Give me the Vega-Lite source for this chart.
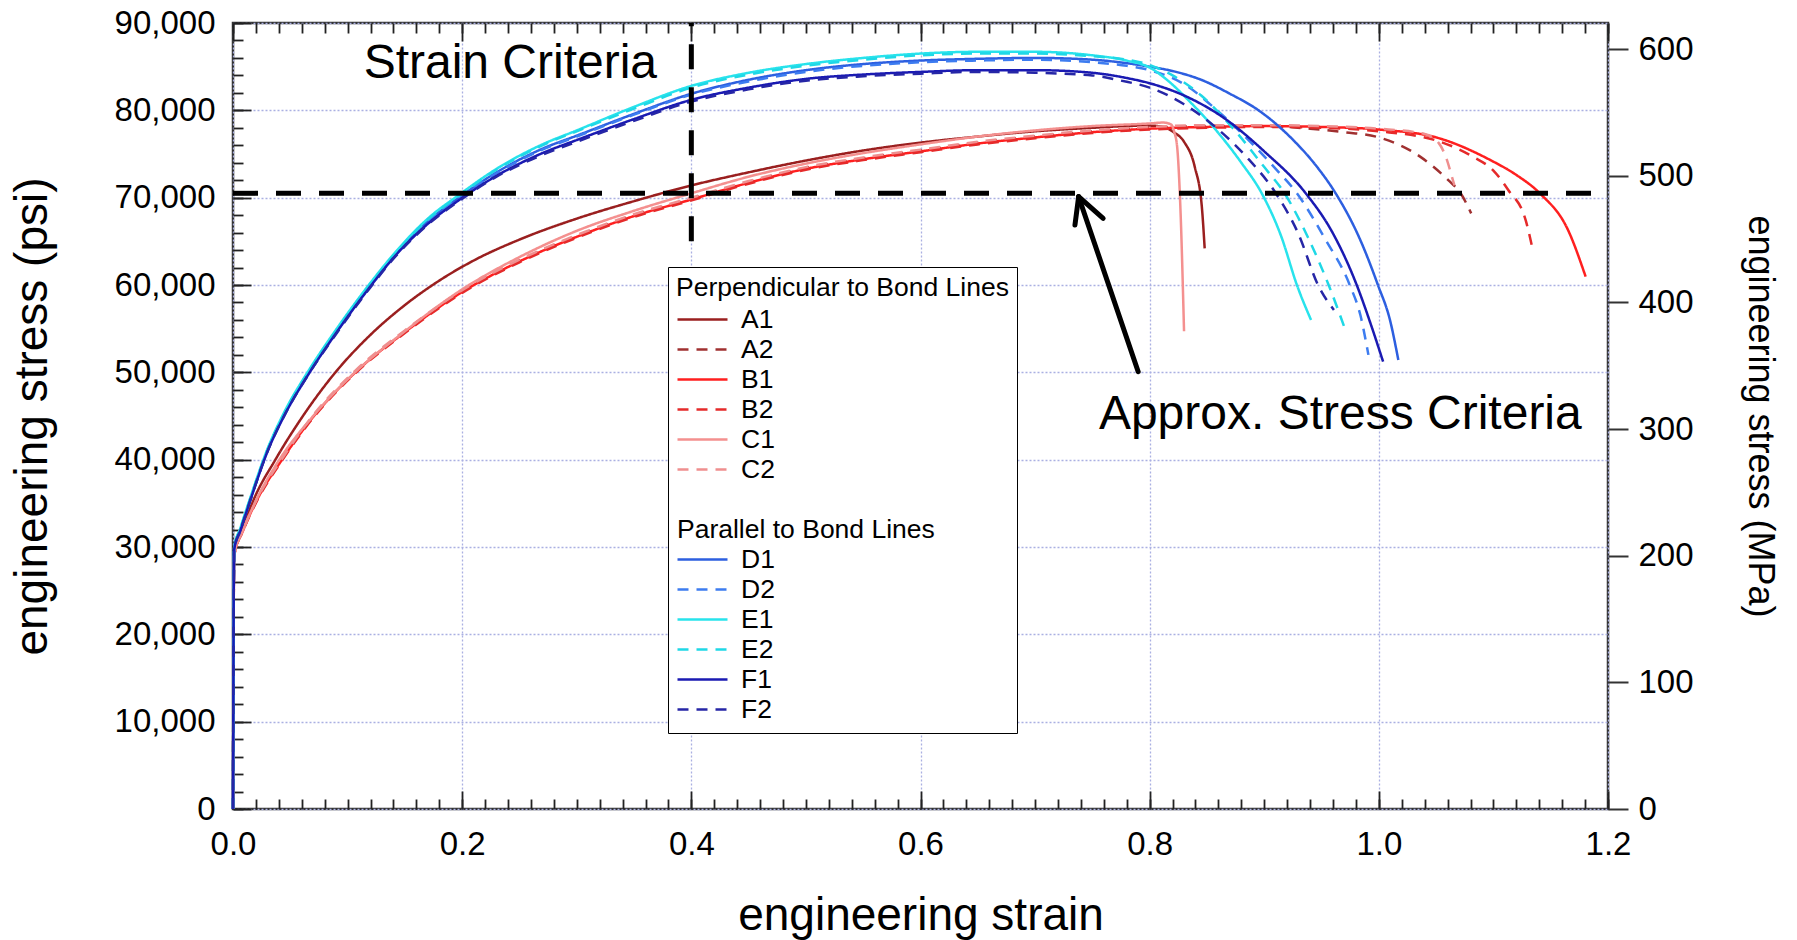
{
"$schema":"https://vega.github.io/schema/vega-lite/v6.json",
"autosize":{"type":"none"},
"padding":{"left":233,"top":23,"right":189,"bottom":131},
"width":1375,"height":786,
"config":{"view":{"stroke":"#333333","strokeWidth":2.5},"font":"Liberation Sans",
"axis":{"labelFont":"Liberation Sans","titleFont":"Liberation Sans","labelColor":"black","titleColor":"black","titleFontWeight":"normal","domain":false,"tickColor":"#222222","tickWidth":1.8,"labelFlush":false}},
"datasets":{
"frame":[{"strain":0,"psi":0},{"strain":1.2,"psi":90000}],
"mpa":[{"mpa":0},{"mpa":620.528}],
"criteria":[{"strain":0,"strain2":1.2,"psi":70500,"psi2":70500},{"strain":0.4,"strain2":0.4,"psi":65000,"psi2":90000}],
"arrow":[{"strain":0.790,"psi":50070,"strain2":0.738,"psi2":70110},{"strain":0.738,"psi":70110,"strain2":0.7348,"psi2":66870},{"strain":0.738,"psi":70110,"strain2":0.7594,"psi2":67630}],
"notes":[{"strain":0.114,"psi":83700,"text":"Strain Criteria"},{"strain":0.7557,"psi":43500,"text":"Approx. Stress Criteria"}],
"curves":[
{"series":"A1","strain":0,"psi":0},{"series":"A1","strain":0.001,"psi":29200},{"series":"A1","strain":0.009,"psi":32300},{"series":"A1","strain":0.018,"psi":35400},{"series":"A1","strain":0.037,"psi":40000},{"series":"A1","strain":0.06,"psi":44800},{"series":"A1","strain":0.0894,"psi":50000},{"series":"A1","strain":0.12,"psi":54300},{"series":"A1","strain":0.15,"psi":57700},{"series":"A1","strain":0.18,"psi":60500},{"series":"A1","strain":0.21,"psi":62800},{"series":"A1","strain":0.25,"psi":65200},{"series":"A1","strain":0.3,"psi":67600},{"series":"A1","strain":0.35,"psi":69600},{"series":"A1","strain":0.4,"psi":71400},{"series":"A1","strain":0.45,"psi":72900},{"series":"A1","strain":0.5,"psi":74250},{"series":"A1","strain":0.55,"psi":75400},{"series":"A1","strain":0.6,"psi":76300},{"series":"A1","strain":0.65,"psi":77000},{"series":"A1","strain":0.7,"psi":77600},{"series":"A1","strain":0.75,"psi":78000},{"series":"A1","strain":0.78,"psi":78200},{"series":"A1","strain":0.8,"psi":78250},{"series":"A1","strain":0.812,"psi":78100},{"series":"A1","strain":0.8209,"psi":77500},{"series":"A1","strain":0.83,"psi":76400},{"series":"A1","strain":0.8394,"psi":73500},{"series":"A1","strain":0.8455,"psi":69000},{"series":"A1","strain":0.848,"psi":64200},
{"series":"A2","strain":0,"psi":0},{"series":"A2","strain":0.001,"psi":29000},{"series":"A2","strain":0.009,"psi":32000},{"series":"A2","strain":0.021,"psi":35500},{"series":"A2","strain":0.0428,"psi":40100},{"series":"A2","strain":0.07,"psi":45000},{"series":"A2","strain":0.1068,"psi":50100},{"series":"A2","strain":0.15,"psi":54700},{"series":"A2","strain":0.2,"psi":59300},{"series":"A2","strain":0.25,"psi":62800},{"series":"A2","strain":0.3075,"psi":66000},{"series":"A2","strain":0.35,"psi":68000},{"series":"A2","strain":0.3977,"psi":69800},{"series":"A2","strain":0.45,"psi":71800},{"series":"A2","strain":0.5,"psi":73400},{"series":"A2","strain":0.55,"psi":74500},{"series":"A2","strain":0.6,"psi":75400},{"series":"A2","strain":0.65,"psi":76300},{"series":"A2","strain":0.7,"psi":77000},{"series":"A2","strain":0.75,"psi":77600},{"series":"A2","strain":0.8,"psi":78000},{"series":"A2","strain":0.85,"psi":78200},{"series":"A2","strain":0.9,"psi":78200},{"series":"A2","strain":0.94,"psi":77900},{"series":"A2","strain":0.97,"psi":77500},{"series":"A2","strain":1.0,"psi":76900},{"series":"A2","strain":1.036,"psi":74700},{"series":"A2","strain":1.0606,"psi":72000},{"series":"A2","strain":1.0714,"psi":70500},{"series":"A2","strain":1.0806,"psi":68200},
{"series":"B1","strain":0,"psi":0},{"series":"B1","strain":0.001,"psi":29000},{"series":"B1","strain":0.009,"psi":31950},{"series":"B1","strain":0.021,"psi":35400},{"series":"B1","strain":0.0428,"psi":40000},{"series":"B1","strain":0.07,"psi":44900},{"series":"B1","strain":0.1068,"psi":50000},{"series":"B1","strain":0.15,"psi":54600},{"series":"B1","strain":0.2,"psi":59200},{"series":"B1","strain":0.25,"psi":62700},{"series":"B1","strain":0.3075,"psi":65900},{"series":"B1","strain":0.35,"psi":67900},{"series":"B1","strain":0.3977,"psi":69700},{"series":"B1","strain":0.45,"psi":71700},{"series":"B1","strain":0.5,"psi":73300},{"series":"B1","strain":0.55,"psi":74400},{"series":"B1","strain":0.6,"psi":75300},{"series":"B1","strain":0.65,"psi":76200},{"series":"B1","strain":0.7,"psi":76900},{"series":"B1","strain":0.75,"psi":77500},{"series":"B1","strain":0.8,"psi":77900},{"series":"B1","strain":0.85,"psi":78100},{"series":"B1","strain":0.9,"psi":78200},{"series":"B1","strain":0.95,"psi":78100},{"series":"B1","strain":1.0,"psi":77800},{"series":"B1","strain":1.05,"psi":76900},{"series":"B1","strain":1.0974,"psi":74300},{"series":"B1","strain":1.12,"psi":72600},{"series":"B1","strain":1.1405,"psi":70500},{"series":"B1","strain":1.1651,"psi":66300},{"series":"B1","strain":1.1805,"psi":60950},
{"series":"B2","strain":0,"psi":0},{"series":"B2","strain":0.001,"psi":29000},{"series":"B2","strain":0.009,"psi":31900},{"series":"B2","strain":0.021,"psi":35300},{"series":"B2","strain":0.0428,"psi":39900},{"series":"B2","strain":0.07,"psi":44800},{"series":"B2","strain":0.1068,"psi":49900},{"series":"B2","strain":0.15,"psi":54500},{"series":"B2","strain":0.2,"psi":59100},{"series":"B2","strain":0.25,"psi":62600},{"series":"B2","strain":0.3075,"psi":65800},{"series":"B2","strain":0.35,"psi":67800},{"series":"B2","strain":0.3977,"psi":69600},{"series":"B2","strain":0.45,"psi":71600},{"series":"B2","strain":0.5,"psi":73200},{"series":"B2","strain":0.55,"psi":74300},{"series":"B2","strain":0.6,"psi":75200},{"series":"B2","strain":0.65,"psi":76100},{"series":"B2","strain":0.7,"psi":76800},{"series":"B2","strain":0.75,"psi":77400},{"series":"B2","strain":0.8,"psi":77800},{"series":"B2","strain":0.85,"psi":78000},{"series":"B2","strain":0.9,"psi":78100},{"series":"B2","strain":0.95,"psi":78000},{"series":"B2","strain":1.0,"psi":77600},{"series":"B2","strain":1.0514,"psi":76500},{"series":"B2","strain":1.082,"psi":74700},{"series":"B2","strain":1.1,"psi":73100},{"series":"B2","strain":1.1128,"psi":70900},{"series":"B2","strain":1.1282,"psi":67400},{"series":"B2","strain":1.1344,"psi":64000},
{"series":"C1","strain":0,"psi":0},{"series":"C1","strain":0.001,"psi":29000},{"series":"C1","strain":0.009,"psi":32000},{"series":"C1","strain":0.02,"psi":35300},{"series":"C1","strain":0.04,"psi":39900},{"series":"C1","strain":0.07,"psi":45000},{"series":"C1","strain":0.1,"psi":49200},{"series":"C1","strain":0.15,"psi":54700},{"series":"C1","strain":0.2,"psi":59500},{"series":"C1","strain":0.25,"psi":63200},{"series":"C1","strain":0.3,"psi":66200},{"series":"C1","strain":0.35,"psi":68500},{"series":"C1","strain":0.4,"psi":70500},{"series":"C1","strain":0.45,"psi":72400},{"series":"C1","strain":0.5,"psi":73900},{"series":"C1","strain":0.55,"psi":75100},{"series":"C1","strain":0.6,"psi":76100},{"series":"C1","strain":0.65,"psi":77000},{"series":"C1","strain":0.7,"psi":77700},{"series":"C1","strain":0.75,"psi":78200},{"series":"C1","strain":0.8,"psi":78500},{"series":"C1","strain":0.812,"psi":78600},{"series":"C1","strain":0.8185,"psi":78400},{"series":"C1","strain":0.8215,"psi":77500},{"series":"C1","strain":0.824,"psi":75800},{"series":"C1","strain":0.827,"psi":68200},{"series":"C1","strain":0.83,"psi":54700},
{"series":"C2","strain":0,"psi":0},{"series":"C2","strain":0.001,"psi":29000},{"series":"C2","strain":0.009,"psi":32000},{"series":"C2","strain":0.021,"psi":35500},{"series":"C2","strain":0.0428,"psi":40100},{"series":"C2","strain":0.07,"psi":45100},{"series":"C2","strain":0.1068,"psi":50200},{"series":"C2","strain":0.15,"psi":54800},{"series":"C2","strain":0.2,"psi":59400},{"series":"C2","strain":0.25,"psi":62900},{"series":"C2","strain":0.3075,"psi":66100},{"series":"C2","strain":0.35,"psi":68100},{"series":"C2","strain":0.3977,"psi":69900},{"series":"C2","strain":0.45,"psi":71900},{"series":"C2","strain":0.5,"psi":73500},{"series":"C2","strain":0.55,"psi":74600},{"series":"C2","strain":0.6,"psi":75500},{"series":"C2","strain":0.65,"psi":76400},{"series":"C2","strain":0.7,"psi":77100},{"series":"C2","strain":0.75,"psi":77700},{"series":"C2","strain":0.8,"psi":78100},{"series":"C2","strain":0.85,"psi":78300},{"series":"C2","strain":0.9,"psi":78300},{"series":"C2","strain":0.95,"psi":78200},{"series":"C2","strain":1.0,"psi":77900},{"series":"C2","strain":1.04,"psi":77300},{"series":"C2","strain":1.052,"psi":76300},{"series":"C2","strain":1.059,"psi":74500},{"series":"C2","strain":1.064,"psi":72300},{"series":"C2","strain":1.066,"psi":71400},
{"series":"D1","strain":0,"psi":0},{"series":"D1","strain":0.001,"psi":29800},{"series":"D1","strain":0.0065,"psi":32000},{"series":"D1","strain":0.015,"psi":35400},{"series":"D1","strain":0.03,"psi":41000},{"series":"D1","strain":0.045,"psi":45300},{"series":"D1","strain":0.066,"psi":50000},{"series":"D1","strain":0.09,"psi":54700},{"series":"D1","strain":0.1185,"psi":59800},{"series":"D1","strain":0.142,"psi":63600},{"series":"D1","strain":0.17,"psi":67300},{"series":"D1","strain":0.197,"psi":70000},{"series":"D1","strain":0.23,"psi":72900},{"series":"D1","strain":0.27,"psi":75600},{"series":"D1","strain":0.3,"psi":77100},{"series":"D1","strain":0.35,"psi":79600},{"series":"D1","strain":0.4,"psi":81900},{"series":"D1","strain":0.45,"psi":83500},{"series":"D1","strain":0.5,"psi":84600},{"series":"D1","strain":0.55,"psi":85300},{"series":"D1","strain":0.6,"psi":85700},{"series":"D1","strain":0.65,"psi":85900},{"series":"D1","strain":0.7,"psi":86000},{"series":"D1","strain":0.75,"psi":85800},{"series":"D1","strain":0.78,"psi":85400},{"series":"D1","strain":0.8,"psi":85000},{"series":"D1","strain":0.82,"psi":84500},{"series":"D1","strain":0.8455,"psi":83470},{"series":"D1","strain":0.87,"psi":81900},{"series":"D1","strain":0.8946,"psi":80040},{"series":"D1","strain":0.9255,"psi":76570},{"series":"D1","strain":0.945,"psi":73700},{"series":"D1","strain":0.9623,"psi":70500},{"series":"D1","strain":0.9838,"psi":65160},{"series":"D1","strain":0.9992,"psi":60000},{"series":"D1","strain":1.0099,"psi":55900},{"series":"D1","strain":1.017,"psi":51420},
{"series":"D2","strain":0,"psi":0},{"series":"D2","strain":0.001,"psi":29800},{"series":"D2","strain":0.0065,"psi":32000},{"series":"D2","strain":0.015,"psi":35400},{"series":"D2","strain":0.03,"psi":41000},{"series":"D2","strain":0.045,"psi":45200},{"series":"D2","strain":0.066,"psi":49900},{"series":"D2","strain":0.09,"psi":54600},{"series":"D2","strain":0.1185,"psi":59700},{"series":"D2","strain":0.142,"psi":63500},{"series":"D2","strain":0.17,"psi":67200},{"series":"D2","strain":0.197,"psi":69900},{"series":"D2","strain":0.23,"psi":72800},{"series":"D2","strain":0.27,"psi":75500},{"series":"D2","strain":0.3,"psi":77000},{"series":"D2","strain":0.35,"psi":79500},{"series":"D2","strain":0.4,"psi":81800},{"series":"D2","strain":0.45,"psi":83300},{"series":"D2","strain":0.5,"psi":84400},{"series":"D2","strain":0.55,"psi":85100},{"series":"D2","strain":0.6,"psi":85500},{"series":"D2","strain":0.65,"psi":85700},{"series":"D2","strain":0.7,"psi":85800},{"series":"D2","strain":0.75,"psi":85500},{"series":"D2","strain":0.78,"psi":85100},{"series":"D2","strain":0.8,"psi":84600},{"series":"D2","strain":0.83,"psi":83000},{"series":"D2","strain":0.858,"psi":80100},{"series":"D2","strain":0.89,"psi":76100},{"series":"D2","strain":0.91,"psi":73300},{"series":"D2","strain":0.9285,"psi":70500},{"series":"D2","strain":0.953,"psi":65300},{"series":"D2","strain":0.9746,"psi":60000},{"series":"D2","strain":0.984,"psi":56500},{"series":"D2","strain":0.9909,"psi":52000},
{"series":"E1","strain":0,"psi":0},{"series":"E1","strain":0.001,"psi":29900},{"series":"E1","strain":0.0065,"psi":32200},{"series":"E1","strain":0.015,"psi":35600},{"series":"E1","strain":0.03,"psi":41200},{"series":"E1","strain":0.045,"psi":45500},{"series":"E1","strain":0.066,"psi":50200},{"series":"E1","strain":0.09,"psi":54900},{"series":"E1","strain":0.1185,"psi":60000},{"series":"E1","strain":0.142,"psi":63800},{"series":"E1","strain":0.17,"psi":67600},{"series":"E1","strain":0.197,"psi":70300},{"series":"E1","strain":0.23,"psi":73300},{"series":"E1","strain":0.27,"psi":76100},{"series":"E1","strain":0.3,"psi":77700},{"series":"E1","strain":0.35,"psi":80400},{"series":"E1","strain":0.4,"psi":82800},{"series":"E1","strain":0.45,"psi":84300},{"series":"E1","strain":0.5,"psi":85300},{"series":"E1","strain":0.55,"psi":86000},{"series":"E1","strain":0.6,"psi":86500},{"series":"E1","strain":0.65,"psi":86700},{"series":"E1","strain":0.7,"psi":86700},{"series":"E1","strain":0.75,"psi":86300},{"series":"E1","strain":0.78,"psi":85700},{"series":"E1","strain":0.8,"psi":84900},{"series":"E1","strain":0.815,"psi":83500},{"series":"E1","strain":0.835,"psi":81000},{"series":"E1","strain":0.86,"psi":77400},{"series":"E1","strain":0.88,"psi":74000},{"series":"E1","strain":0.8978,"psi":70500},{"series":"E1","strain":0.915,"psi":65500},{"series":"E1","strain":0.9285,"psi":60000},{"series":"E1","strain":0.9408,"psi":56000},
{"series":"E2","strain":0,"psi":0},{"series":"E2","strain":0.001,"psi":29900},{"series":"E2","strain":0.0065,"psi":32100},{"series":"E2","strain":0.015,"psi":35500},{"series":"E2","strain":0.03,"psi":41100},{"series":"E2","strain":0.045,"psi":45400},{"series":"E2","strain":0.066,"psi":50100},{"series":"E2","strain":0.09,"psi":54800},{"series":"E2","strain":0.1185,"psi":59900},{"series":"E2","strain":0.142,"psi":63700},{"series":"E2","strain":0.17,"psi":67500},{"series":"E2","strain":0.197,"psi":70200},{"series":"E2","strain":0.23,"psi":73200},{"series":"E2","strain":0.27,"psi":76000},{"series":"E2","strain":0.3,"psi":77600},{"series":"E2","strain":0.35,"psi":80200},{"series":"E2","strain":0.4,"psi":82600},{"series":"E2","strain":0.45,"psi":84100},{"series":"E2","strain":0.5,"psi":85100},{"series":"E2","strain":0.55,"psi":85800},{"series":"E2","strain":0.6,"psi":86300},{"series":"E2","strain":0.65,"psi":86500},{"series":"E2","strain":0.7,"psi":86500},{"series":"E2","strain":0.75,"psi":86200},{"series":"E2","strain":0.78,"psi":85800},{"series":"E2","strain":0.8,"psi":85200},{"series":"E2","strain":0.82,"psi":84000},{"series":"E2","strain":0.845,"psi":81700},{"series":"E2","strain":0.875,"psi":77600},{"series":"E2","strain":0.9,"psi":73500},{"series":"E2","strain":0.9177,"psi":70500},{"series":"E2","strain":0.938,"psi":65500},{"series":"E2","strain":0.9562,"psi":60000},{"series":"E2","strain":0.9708,"psi":54850},
{"series":"F1","strain":0,"psi":0},{"series":"F1","strain":0.001,"psi":29700},{"series":"F1","strain":0.0065,"psi":31900},{"series":"F1","strain":0.015,"psi":35300},{"series":"F1","strain":0.03,"psi":40900},{"series":"F1","strain":0.045,"psi":45100},{"series":"F1","strain":0.066,"psi":49800},{"series":"F1","strain":0.09,"psi":54500},{"series":"F1","strain":0.1185,"psi":59600},{"series":"F1","strain":0.142,"psi":63400},{"series":"F1","strain":0.17,"psi":67000},{"series":"F1","strain":0.197,"psi":69700},{"series":"F1","strain":0.23,"psi":72500},{"series":"F1","strain":0.27,"psi":75100},{"series":"F1","strain":0.3,"psi":76600},{"series":"F1","strain":0.35,"psi":79000},{"series":"F1","strain":0.4,"psi":81200},{"series":"F1","strain":0.45,"psi":82600},{"series":"F1","strain":0.5,"psi":83600},{"series":"F1","strain":0.55,"psi":84100},{"series":"F1","strain":0.6,"psi":84400},{"series":"F1","strain":0.65,"psi":84600},{"series":"F1","strain":0.7,"psi":84600},{"series":"F1","strain":0.75,"psi":84300},{"series":"F1","strain":0.78,"psi":83700},{"series":"F1","strain":0.8,"psi":83100},{"series":"F1","strain":0.83,"psi":81700},{"series":"F1","strain":0.864,"psi":79200},{"series":"F1","strain":0.9,"psi":75300},{"series":"F1","strain":0.9362,"psi":70500},{"series":"F1","strain":0.96,"psi":65900},{"series":"F1","strain":0.9807,"psi":60000},{"series":"F1","strain":0.993,"psi":55500},{"series":"F1","strain":1.0037,"psi":51230},
{"series":"F2","strain":0,"psi":0},{"series":"F2","strain":0.001,"psi":29700},{"series":"F2","strain":0.0065,"psi":31900},{"series":"F2","strain":0.015,"psi":35300},{"series":"F2","strain":0.03,"psi":40900},{"series":"F2","strain":0.045,"psi":45100},{"series":"F2","strain":0.066,"psi":49800},{"series":"F2","strain":0.09,"psi":54400},{"series":"F2","strain":0.1185,"psi":59500},{"series":"F2","strain":0.142,"psi":63300},{"series":"F2","strain":0.17,"psi":66900},{"series":"F2","strain":0.197,"psi":69600},{"series":"F2","strain":0.23,"psi":72400},{"series":"F2","strain":0.27,"psi":74900},{"series":"F2","strain":0.3,"psi":76400},{"series":"F2","strain":0.35,"psi":78800},{"series":"F2","strain":0.4,"psi":81000},{"series":"F2","strain":0.45,"psi":82400},{"series":"F2","strain":0.5,"psi":83400},{"series":"F2","strain":0.55,"psi":83900},{"series":"F2","strain":0.6,"psi":84200},{"series":"F2","strain":0.65,"psi":84400},{"series":"F2","strain":0.7,"psi":84300},{"series":"F2","strain":0.75,"psi":84000},{"series":"F2","strain":0.775,"psi":83400},{"series":"F2","strain":0.8,"psi":82600},{"series":"F2","strain":0.83,"psi":80700},{"series":"F2","strain":0.86,"psi":77800},{"series":"F2","strain":0.885,"psi":74600},{"series":"F2","strain":0.9101,"psi":70500},{"series":"F2","strain":0.93,"psi":65800},{"series":"F2","strain":0.9469,"psi":60000},{"series":"F2","strain":0.9608,"psi":57140}
]},
"layer":[
{"layer":[
 {"data":{"name":"frame"},"mark":{"type":"point","opacity":0},
  "encoding":{
   "x":{"field":"strain","type":"quantitative","scale":{"domain":[0,1.2],"nice":false,"zero":false},
        "axis":{"orient":"bottom","values":[0,0.2,0.4,0.6,0.8,1.0,1.2],"format":".1f","labelFontSize":33,"labelPadding":19,"labelFlush":false,"ticks":false,"grid":true,"gridColor":"#aab0e2","gridDash":[2,2],"gridWidth":1.3,"title":"engineering strain","titleFontSize":46,"titlePadding":32}},
   "y":{"field":"psi","type":"quantitative","scale":{"domain":[0,90000],"nice":false,"zero":false},
        "axis":{"orient":"left","values":[0,10000,20000,30000,40000,50000,60000,70000,80000,90000],"format":",d","labelFontSize":33,"labelPadding":18,"labelFlush":false,"ticks":false,"grid":true,"gridColor":"#aab0e2","gridDash":[2,2],"gridWidth":1.3,"title":"engineering stress (psi)","titleFontSize":46,"titlePadding":58}}}},
 {"data":{"name":"frame"},"mark":{"type":"point","opacity":0},
  "encoding":{
   "x":{"field":"strain","type":"quantitative","axis":{"orient":"bottom","tickCount":60,"labels":false,"tickSize":-10,"grid":false,"title":null}},
   "y":{"field":"psi","type":"quantitative","axis":{"orient":"left","tickCount":45,"labels":false,"tickSize":-10,"grid":false,"title":null}}}},
 {"data":{"name":"frame"},"mark":{"type":"point","opacity":0},
  "encoding":{
   "x":{"field":"strain","type":"quantitative","axis":{"orient":"bottom","values":[0,0.2,0.4,0.6,0.8,1.0,1.2],"labels":false,"tickSize":-18,"grid":false,"title":null}},
   "y":{"field":"psi","type":"quantitative","axis":{"orient":"left","values":[0,10000,20000,30000,40000,50000,60000,70000,80000,90000],"labels":false,"tickSize":-18,"grid":false,"title":null}}}},
 {"data":{"name":"frame"},"mark":{"type":"point","opacity":0},
  "encoding":{
   "x":{"field":"strain","type":"quantitative","axis":{"orient":"top","tickCount":60,"labels":false,"tickSize":-10,"grid":false,"title":null}},
   "y":{"field":"psi","type":"quantitative","axis":null}}},
 {"data":{"name":"frame"},"mark":{"type":"point","opacity":0},
  "encoding":{
   "x":{"field":"strain","type":"quantitative","axis":{"orient":"top","values":[0,0.2,0.4,0.6,0.8,1.0,1.2],"labels":false,"tickSize":-18,"grid":false,"title":null}},
   "y":{"field":"psi","type":"quantitative","axis":null}}},
 {"data":{"name":"curves"},"mark":{"type":"line","strokeWidth":2.5,"interpolate":"monotone"},
  "encoding":{
   "x":{"field":"strain","type":"quantitative","axis":null},
   "y":{"field":"psi","type":"quantitative","axis":null},
   "color":{"field":"series","type":"nominal",
     "scale":{"domain":["A1","A2","B1","B2","C1","C2"," ","Parallel to Bond Lines","D1","D2","E1","E2","F1","F2"],
              "range":["#9a1f1f","#a03030","#ff1f1f","#e52a2a","#f4908f","#ef8f8f","transparent","transparent","#2d5fe0","#3d7cf0","#28e3ec","#1fd8e6","#1a1ab2","#2626a6"]},
     "legend":{"title":"Perpendicular to Bond Lines","orient":"none","legendX":435,"legendY":244,"symbolType":"stroke","symbolSize":2500,"symbolStrokeWidth":2.5,"clipHeight":30,"rowPadding":0,"labelFont":"Liberation Sans","labelFontSize":26.5,"labelLimit":600,"labelOffset":12,"labelColor":"black","titleFont":"Liberation Sans","titleFontSize":26.5,"titleFontWeight":"normal","titleColor":"black","titleLimit":600,"titlePadding":3,"padding":8,"strokeColor":"black","fillColor":"white",
       "encode":{"labels":{"update":{"dx":{"signal":"datum.value === 'Parallel to Bond Lines' ? -64 : 0"}}}}}},
   "strokeDash":{"field":"series","type":"nominal",
     "scale":{"domain":["A1","A2","B1","B2","C1","C2"," ","Parallel to Bond Lines","D1","D2","E1","E2","F1","F2"],
              "range":[[1,0],[11,8],[1,0],[11,8],[1,0],[11,8],[1,0],[1,0],[1,0],[11,8],[1,0],[11,8],[1,0],[11,8]]},
     "legend":{"title":"Perpendicular to Bond Lines","orient":"none","legendX":435,"legendY":244,"symbolType":"stroke","symbolSize":2500,"symbolStrokeWidth":2.5,"clipHeight":30,"rowPadding":0,"labelFont":"Liberation Sans","labelFontSize":26.5,"labelLimit":600,"labelOffset":12,"labelColor":"black","titleFont":"Liberation Sans","titleFontSize":26.5,"titleFontWeight":"normal","titleColor":"black","titleLimit":600,"titlePadding":3,"padding":8,"strokeColor":"black","fillColor":"white",
       "encode":{"labels":{"update":{"dx":{"signal":"datum.value === 'Parallel to Bond Lines' ? -64 : 0"}}}}}}}},
 {"data":{"name":"criteria"},"mark":{"type":"rule","color":"black","strokeWidth":5,"strokeDash":[25,18]},
  "encoding":{"x":{"field":"strain","type":"quantitative","axis":null},"x2":{"field":"strain2"},"y":{"field":"psi","type":"quantitative","axis":null},"y2":{"field":"psi2"}}},
 {"data":{"name":"arrow"},"mark":{"type":"rule","color":"black","strokeWidth":5,"strokeCap":"round"},
  "encoding":{"x":{"field":"strain","type":"quantitative","axis":null},"x2":{"field":"strain2"},"y":{"field":"psi","type":"quantitative","axis":null},"y2":{"field":"psi2"}}},
 {"data":{"name":"notes"},"mark":{"type":"text","font":"Liberation Sans","fontSize":48,"align":"left","baseline":"alphabetic","color":"black"},
  "encoding":{"x":{"field":"strain","type":"quantitative","axis":null},"y":{"field":"psi","type":"quantitative","axis":null},"text":{"field":"text"}}}
 ],
 "resolve":{"axis":{"x":"independent","y":"independent"}}},
{"data":{"name":"mpa"},"mark":{"type":"point","opacity":0},
 "encoding":{"y":{"field":"mpa","type":"quantitative","scale":{"domain":[0,620.528],"nice":false,"zero":true},
   "axis":{"orient":"right","values":[0,100,200,300,400,500,600],"title":"engineering stress (MPa)","titleFontSize":36,"labelFontSize":33,"labelFlush":false,"tickSize":20,"tickWidth":2,"tickColor":"#333333","labelPadding":10,"titlePadding":47,"grid":false}}}}
],
"resolve":{"scale":{"y":"independent"}}
}
